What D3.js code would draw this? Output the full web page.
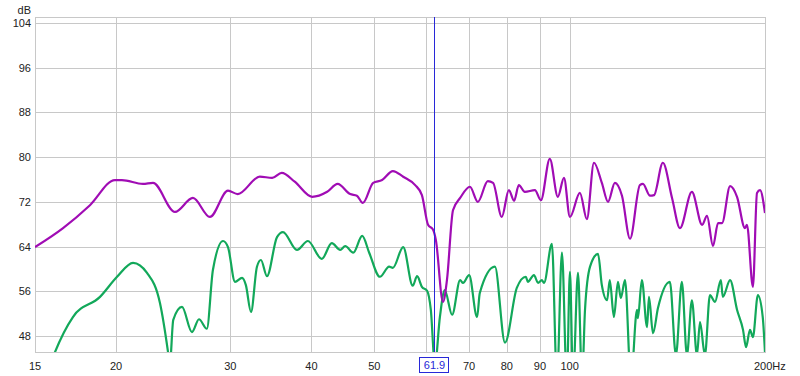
<!DOCTYPE html>
<html>
<head>
<meta charset="utf-8">
<script src="https://cdn.jsdelivr.net/npm/d3@7"></script>
<style>
  body { margin: 0; background: #fff; }
  svg { display: block; font-family: "Liberation Sans", Arial, sans-serif; }
</style>
</head>
<body>
<div id="chart"></div>
<script>
// frequency (Hz) / level (dB)
const magentaFreq = [15.0, 16.57, 18.23, 19.92, 20.42, 22.0, 22.8, 24.65, 26.27, 27.9, 29.75, 30.8, 33.3, 34.8, 36.0, 37.7, 40.1, 42.3, 43.9, 45.9, 47.0, 48.0, 49.8, 51.4, 53.4, 55.4, 57.8, 59.2, 60.5, 61.6, 62.2, 63.8, 64.7, 66.1, 67.8, 70.2, 72.2, 74.8, 76.2, 78.6, 80.6, 82.1, 83.5, 85.3, 88.4, 90.3, 93.2, 95.9, 98.0, 100.1, 103.7, 106.3, 109.0, 112.1, 114.6, 117.4, 120.4, 123.9, 128.3, 129.7, 133.0, 134.9, 139.2, 143.8, 147.9, 154.3, 160.0, 162.8, 166.3, 169.3, 171.7, 176.7, 181.1, 186.3, 187.6, 191.6, 194.4, 196.5, 200];
const magentaDb = [63.9, 67.3, 71.4, 75.9, 75.9, 75.2, 75.4, 70.2, 72.7, 69.3, 74.0, 73.4, 76.5, 76.3, 77.2, 75.6, 72.9, 73.8, 75.2, 73.4, 73.1, 71.8, 75.4, 75.9, 77.5, 76.5, 75.0, 73.2, 67.9, 67.0, 65.2, 54.1, 58.0, 70.5, 72.7, 74.7, 72.0, 75.7, 75.4, 69.3, 74.1, 72.2, 75.0, 73.8, 74.1, 72.3, 79.7, 72.9, 76.3, 69.3, 73.6, 68.9, 79.0, 75.4, 72.0, 75.4, 73.1, 65.4, 75.0, 75.2, 73.1, 73.2, 79.0, 72.7, 67.3, 73.8, 67.9, 69.5, 64.1, 68.2, 68.2, 74.8, 72.9, 67.3, 67.9, 56.8, 73.6, 74.1, 70.0];

const greenFreq = [15.54, 16.1, 17.16, 18.89, 20.07, 21.24, 22.32, 23.37, 24.05, 24.2, 24.5, 25.27, 26.18, 26.84, 27.6, 28.2, 29.23, 29.75, 30.5, 31.27, 31.7, 32.28, 32.97, 33.44, 34.16, 35.4, 36.16, 38.0, 39.5, 41.5, 43.0, 44.3, 45.1, 46.4, 47.9, 49.1, 51.0, 52.7, 53.4, 55.4, 57.3, 58.2, 59.2, 60.3, 61.1, 62.0, 63.1, 64.2, 65.9, 67.8, 68.5, 70.0, 72.0, 72.7, 76.7, 79.5, 82.9, 85.6, 86.2, 88.1, 89.4, 90.6, 91.3, 93.9, 95.6, 97.3, 99.0, 100.1, 101.2, 103.0, 104.5, 105.6, 107.5, 110.6, 112.1, 114.2, 115.3, 117.0, 118.7, 119.9, 121.7, 124.3, 127.0, 127.4, 129.2, 131.6, 132.5, 134.4, 136.8, 142.7, 145.8, 148.9, 151.6, 154.3, 157.1, 158.8, 161.6, 164.5, 167.5, 171.0, 172.2, 176.7, 181.1, 185.0, 187.0, 189.6, 191.6, 195.0, 198.4, 200];
const greenDb = [40.1, 45.1, 51.4, 55.0, 58.6, 61.1, 59.3, 53.9, 45.1, 42.8, 50.9, 53.2, 48.7, 51.0, 49.3, 59.8, 65.0, 63.9, 57.7, 58.4, 57.1, 52.3, 60.4, 61.6, 58.7, 65.7, 66.6, 63.4, 65.0, 61.8, 64.6, 63.4, 64.1, 62.9, 65.9, 62.9, 58.6, 60.4, 60.2, 63.9, 57.0, 58.7, 56.8, 56.1, 52.7, 42.8, 51.4, 56.2, 51.8, 58.0, 57.5, 58.9, 51.4, 55.7, 60.4, 46.8, 56.6, 58.6, 57.7, 58.9, 57.5, 58.0, 57.5, 64.5, 40.1, 62.9, 40.1, 59.5, 40.1, 59.3, 40.1, 52.7, 60.4, 62.7, 57.1, 54.4, 58.0, 51.4, 57.7, 54.8, 58.0, 40.1, 52.7, 51.2, 58.0, 49.6, 55.0, 48.5, 53.0, 57.7, 44.6, 57.7, 44.6, 54.4, 44.6, 50.5, 44.6, 55.3, 54.1, 58.0, 55.0, 58.0, 52.7, 49.1, 46.0, 49.1, 47.8, 55.3, 51.4, 45.0];

const xGridTicks = [20, 30, 40, 50, 60, 70, 80, 90, 100];
const xLabelTicks = [15, 20, 30, 40, 50, 70, 80, 90, 100];
const yTicks = [48, 56, 64, 72, 80, 88, 96, 104];
const cursorFreq = 61.9;

const width = 800, height = 376;
const svg = d3.select('#chart').append('svg')
  .attr('width', width)
  .attr('height', height);

const x = d3.scaleLog().domain([15, 200]).range([35, 765]);
const y = d3.scaleLinear().domain([45.14, 105.07]).range([352, 17]);

const plotL = 35, plotR = 765, plotT = 17, plotB = 352;

svg.append('defs').append('clipPath').attr('id', 'plot')
  .append('rect')
  .attr('x', plotL).attr('y', plotT)
  .attr('width', plotR - plotL).attr('height', plotB - plotT);

// grid
const grid = svg.append('g').attr('stroke', '#c8c8c8').attr('stroke-width', 1);
grid.selectAll('.hg').data(yTicks).enter().append('line')
  .attr('x1', plotL).attr('x2', plotR)
  .attr('y1', d => Math.round(y(d)) + 0.5).attr('y2', d => Math.round(y(d)) + 0.5);
grid.selectAll('.vg').data(xGridTicks).enter().append('line')
  .attr('y1', plotT).attr('y2', plotB)
  .attr('x1', d => Math.round(x(d)) + 0.5).attr('x2', d => Math.round(x(d)) + 0.5);

svg.append('rect')
  .attr('x', plotL + 0.5).attr('y', plotT + 0.5)
  .attr('width', plotR - plotL).attr('height', plotB - plotT)
  .attr('fill', 'none').attr('stroke', '#c8c8c8');

// y labels
svg.selectAll('.yl').data(yTicks).enter().append('text')
  .attr('x', 31).attr('y', d => y(d) + 4)
  .attr('text-anchor', 'end')
  .attr('font-size', 11).attr('fill', '#222')
  .text(d => d);

svg.append('text').attr('x', 31).attr('y', 14)
  .attr('text-anchor', 'end').attr('font-size', 11).attr('fill', '#222')
  .text('dB');

// x labels
svg.selectAll('.xl').data(xLabelTicks).enter().append('text')
  .attr('x', d => x(d)).attr('y', 370)
  .attr('text-anchor', 'middle')
  .attr('font-size', 11).attr('fill', '#222')
  .text(d => d);

svg.append('text').attr('x', x(200) - 11).attr('y', 370)
  .attr('font-size', 11).attr('fill', '#222')
  .text('200Hz');

// curves
const line = d3.line()
  .x(d => x(d[0]))
  .y(d => y(d[1]))
  .curve(d3.curveMonotoneX);

const curves = svg.append('g').attr('clip-path', 'url(#plot)');

curves.append('path')
  .datum(greenFreq.map((f, i) => [f, greenDb[i]]))
  .attr('d', line)
  .attr('fill', 'none')
  .attr('stroke', '#12a85a')
  .attr('stroke-width', 2.2)
  .attr('stroke-linejoin', 'round');

curves.append('path')
  .datum(magentaFreq.map((f, i) => [f, magentaDb[i]]))
  .attr('d', line)
  .attr('fill', 'none')
  .attr('stroke', '#a00cb4')
  .attr('stroke-width', 2.2)
  .attr('stroke-linejoin', 'round');

// cursor
const cx = Math.round(x(cursorFreq)) + 0.5;
svg.append('line')
  .attr('x1', cx).attr('x2', cx)
  .attr('y1', plotT).attr('y2', plotB)
  .attr('stroke', '#2828d8').attr('stroke-width', 1);

svg.append('rect')
  .attr('x', cx - 15).attr('y', 357.5)
  .attr('width', 29).attr('height', 15)
  .attr('fill', '#fff').attr('stroke', '#2828d8');

svg.append('text')
  .attr('x', cx).attr('y', 369)
  .attr('text-anchor', 'middle')
  .attr('font-size', 11).attr('fill', '#2828d8')
  .text(cursorFreq);
</script>
</body>
</html>
